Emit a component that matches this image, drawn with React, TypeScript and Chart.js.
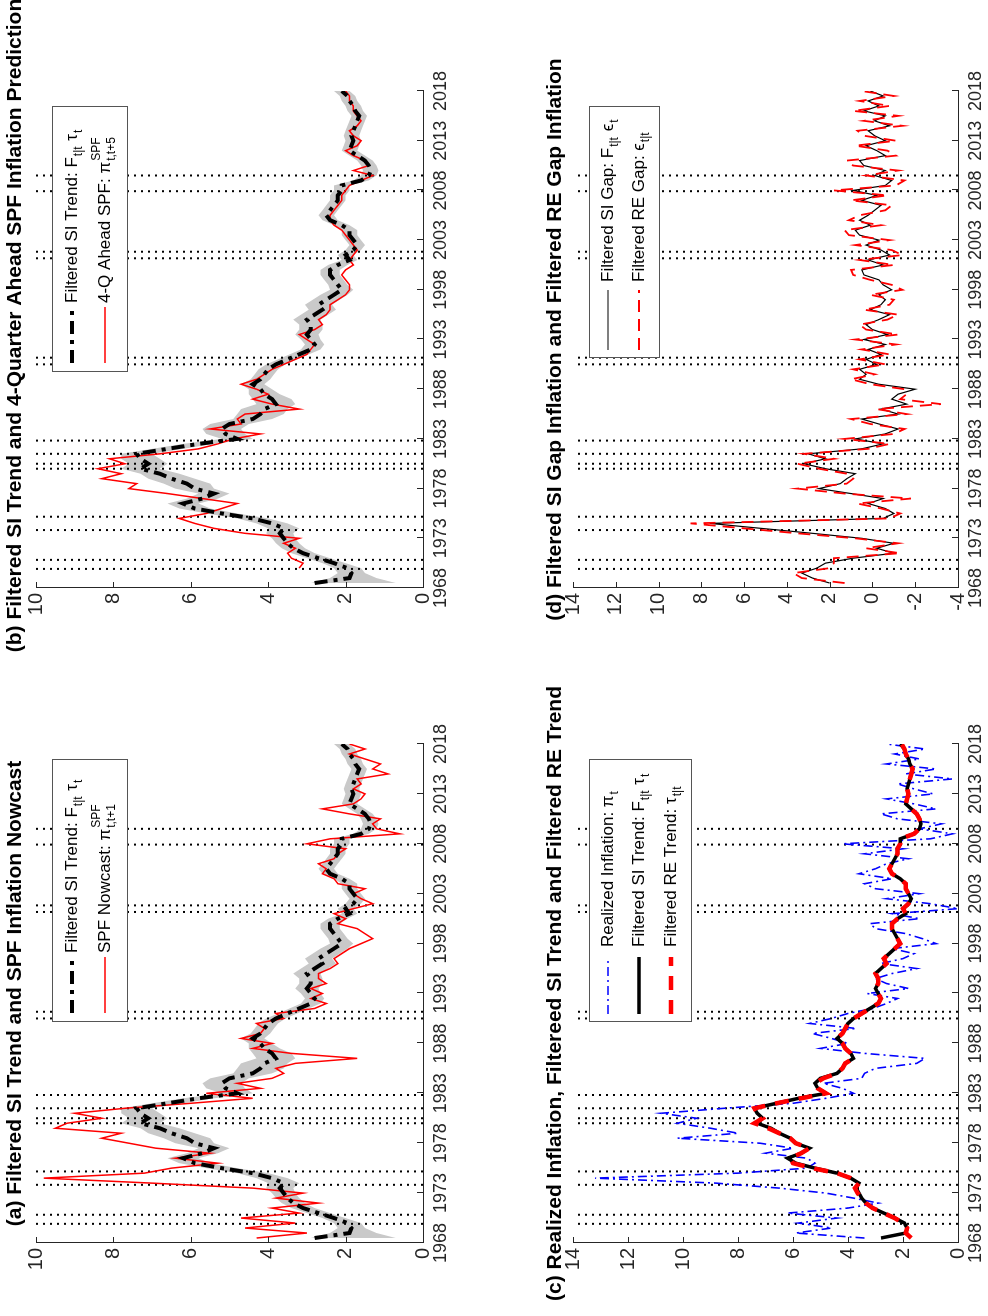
import React, { useEffect, useRef } from 'react';
import { Chart, registerables } from 'chart.js';
Chart.register(...registerables);

const FONT = '"Liberation Sans", Arial, Helvetica, sans-serif';
const AXIS_COLOR = '#262626';

// Half-year grid 1968.5 .. 2018.0
const YEARS = Array.from({ length: 100 }, (_, i) => 1968.5 + i * 0.5);
const YEAR_TICKS = [1968, 1973, 1978, 1983, 1988, 1993, 1998, 2003, 2008, 2013, 2018];
const RECESSION_LINES = [1969.92, 1970.83, 1973.83, 1975.17, 1980.0, 1980.5, 1981.5, 1982.83, 1990.5, 1991.17, 2001.17, 2001.83, 2007.92, 2009.5];

const SI_TREND = [
  2.8, 1.9, 1.85, 1.95, 2.3, 2.7, 3.1, 3.35, 3.5, 3.6,
  3.7, 3.6, 3.9, 4.4, 5.2, 5.9, 6.2, 5.7, 5.4, 5.9,
  6.1, 6.5, 6.8, 7.3, 7.1, 7.3, 7.4, 6.6, 5.8, 4.8,
  5.1, 5.2, 5.0, 4.4, 4.2, 4.1, 3.8, 3.9, 4.1, 4.2,
  4.4, 4.2, 4.1, 4.0, 3.8, 3.5, 3.2, 2.9, 2.8, 2.9,
  3.0, 2.9, 2.9, 3.0, 2.8, 2.6, 2.7, 2.5, 2.3, 2.1,
  2.2, 2.3, 2.4, 2.4, 2.2, 1.9, 2.0, 1.8, 1.7, 1.8,
  1.9, 1.9, 2.1, 2.4, 2.5, 2.4, 2.3, 2.2, 2.2, 2.1,
  2.1, 1.6, 1.4, 1.35, 1.4, 1.5, 1.7, 1.9, 1.85, 1.8,
  1.85, 1.8, 1.75, 1.7, 1.65, 1.75, 1.8, 1.9, 1.95, 2.1,
];
const BAND_LO = [
  0.7, 1.2, 1.5, 1.6, 2.0, 2.4, 2.8, 3.05, 3.2, 3.3,
  3.35, 3.2, 3.5, 4.0, 4.8, 5.5, 5.8, 5.3, 5.0, 5.4,
  5.5, 5.9, 6.3, 6.8, 6.6, 6.8, 7.0, 6.2, 5.4, 4.4,
  4.6, 4.7, 4.5, 3.9, 3.6, 3.5, 3.3, 3.4, 3.7, 3.9,
  4.1, 3.95, 3.85, 3.75, 3.55, 3.25, 2.95, 2.65, 2.55, 2.65,
  2.7, 2.6, 2.6, 2.65, 2.45, 2.25, 2.35, 2.15, 1.95, 1.8,
  1.95, 2.05, 2.15, 2.15, 1.95, 1.7, 1.8, 1.6, 1.5, 1.6,
  1.7, 1.7, 1.9, 2.2, 2.3, 2.2, 2.1, 2.0, 2.0, 1.9,
  1.9, 1.4, 1.2, 1.15, 1.2, 1.3, 1.5, 1.7, 1.65, 1.6,
  1.65, 1.6, 1.55, 1.5, 1.45, 1.55, 1.6, 1.7, 1.75, 1.9,
];
const BAND_HI = [
  2.9, 2.4, 2.2, 2.3, 2.6, 3.0, 3.4, 3.65, 3.8, 3.9,
  4.05, 4.0, 4.3, 4.8, 5.6, 6.3, 6.6, 6.1, 5.8, 6.4,
  6.7, 7.1, 7.3, 7.8, 7.6, 7.8, 7.8, 7.0, 6.2, 5.2,
  5.6, 5.7, 5.5, 4.9, 4.8, 4.7, 4.3, 4.4, 4.5, 4.5,
  4.7, 4.45, 4.35, 4.25, 4.05, 3.75, 3.45, 3.15, 3.05, 3.15,
  3.3, 3.2, 3.2, 3.35, 3.15, 2.95, 3.05, 2.85, 2.65, 2.4,
  2.45, 2.55, 2.65, 2.65, 2.45, 2.1, 2.2, 2.0, 1.9, 2.0,
  2.1, 2.1, 2.3, 2.6, 2.7, 2.6, 2.5, 2.4, 2.4, 2.3,
  2.3, 1.8, 1.6, 1.55, 1.6, 1.7, 1.9, 2.1, 2.05, 2.0,
  2.05, 2.0, 1.95, 1.9, 1.85, 1.95, 2.0, 2.1, 2.15, 2.3,
];
const SPF_NOWCAST = [
  4.3, 3.0, 4.6, 3.3, 4.7, 3.2, 3.9, 2.7, 3.8, 3.1,
  4.4, 7.0, 9.8, 7.2, 6.5, 5.3, 6.4, 5.5, 6.9, 7.6,
  8.3, 7.8, 9.5, 9.2, 8.3, 9.0, 7.7, 6.0, 4.4, 5.6,
  4.2, 4.8, 3.9, 3.6, 3.8, 3.3, 1.7, 3.4, 4.4, 3.9,
  4.7, 4.2, 4.1, 4.3, 3.6, 3.8, 2.8, 2.5, 2.9, 2.6,
  2.9, 2.5, 2.7, 2.7, 2.4, 2.2, 2.3, 2.1, 1.9, 1.6,
  1.3, 1.5, 1.7, 2.2, 2.0, 2.3, 1.8, 1.3, 1.6, 1.8,
  1.5, 2.2, 2.3, 2.6, 2.5, 2.7, 2.3, 2.2, 2.0, 3.0,
  2.4, 0.6, 1.2, 1.3, 1.1, 1.9, 2.6, 1.8, 1.6, 1.5,
  1.8, 1.6, 1.7, 0.9, 1.3, 1.1, 1.5, 1.9, 1.5, 1.9,
];
const SPF_4Q = [
  null, null, null, 3.2, 3.1, 3.4, 3.5, 3.3, 3.6, 3.2,
  4.6, 5.4, 5.9, 6.3, 5.6, 5.2, 4.8, 5.7, 6.6, 7.6,
  7.4, 8.3, 7.8, 8.4, 7.7, 8.1, 6.8, 5.8, 5.3, 4.9,
  4.2, 5.5, 4.7, 4.8, 4.6, 3.2, 3.9, 4.4, 4.0, 4.3,
  4.7, 4.3, 4.1, 3.9, 3.6, 3.3, 3.0, 2.9, 2.8, 3.0,
  3.2, 2.8, 2.6, 2.7, 2.5, 2.4, 2.4, 2.2, 2.0, 1.9,
  1.9, 2.0, 2.1, 2.0, 1.8, 1.9, 1.8, 1.7, 1.8, 1.9,
  2.0, 2.1, 2.3, 2.4, 2.4, 2.3, 2.2, 2.1, 2.1, 2.0,
  1.9, 1.6, 1.3, 1.8, 1.4, 1.5, 1.8, 2.0, 1.7, 1.6,
  1.8, 1.9, 1.7, 1.6, 1.7, 1.8, 1.8, 1.9, 1.9, 2.0,
];
const REALIZED = [
  3.4, 5.9, 4.6, 5.8, 4.4, 6.2, 4.0, 2.9, 3.8, 4.8,
  6.5, 8.8, 13.2, 8.0, 5.5, 5.2, 5.5, 7.0, 6.0, 7.2,
  10.2, 8.0, 9.0, 10.2, 9.5, 10.8, 8.5, 6.0, 4.8, 3.8,
  4.2, 4.9, 3.5, 3.4, 3.0, 1.5, 1.2, 3.4, 5.0, 4.0,
  4.6, 5.3, 3.7, 5.4, 4.6, 4.0, 3.1, 2.6, 2.2, 3.3,
  1.8, 2.6, 3.0, 2.4, 1.5, 2.8, 2.0, 1.6, 2.4, 0.8,
  1.3, 1.9, 3.0, 3.2, 1.4, 2.4, 0.0, 1.0, 2.6, 1.4,
  3.0, 3.4, 2.4, 3.6, 3.0, 2.6, 1.8, 3.4, 2.0, 4.2,
  1.0, 0.2, 1.4, 0.6, 2.2, 2.8, 0.8, 1.6, 2.6, 0.9,
  1.6, 2.2, 0.2, 1.9, 0.8, 2.6, 1.4, 2.3, 1.2, 2.6,
];
const RE_TREND = [
  1.7, 1.9, 1.85, 2.0, 2.3, 2.7, 3.1, 3.35, 3.5, 3.65,
  3.75, 3.6, 3.9, 4.4, 5.3, 6.0, 6.1, 5.7, 5.4, 5.9,
  6.1, 6.5, 6.9, 7.4, 7.1, 7.3, 7.4, 6.6, 5.7, 4.8,
  5.1, 5.2, 4.9, 4.4, 4.2, 4.1, 3.8, 3.9, 4.1, 4.2,
  4.4, 4.2, 4.1, 4.0, 3.8, 3.5, 3.2, 2.9, 2.8, 2.9,
  3.0, 2.9, 2.9, 3.0, 2.8, 2.6, 2.7, 2.5, 2.3, 2.1,
  2.2, 2.3, 2.4, 2.4, 2.2, 1.9, 2.0, 1.8, 1.7, 1.8,
  1.9, 1.9, 2.1, 2.4, 2.5, 2.4, 2.3, 2.2, 2.2, 2.1,
  2.1, 1.6, 1.4, 1.35, 1.4, 1.5, 1.7, 1.9, 1.85, 1.8,
  1.85, 1.8, 1.75, 1.7, 1.65, 1.75, 1.8, 1.9, 1.95, 2.05,
];
const SI_GAP = [
  2.0, 2.8, 3.3, 2.6, 2.2, 0.9, -1.0, -0.2, -1.0, 0.5,
  2.8, 5.2, 7.6, -0.5, -1.0, -0.6, 0.2, -0.5, 1.0, 2.5,
  1.5, 1.2, 0.8, 2.2, 3.2, 2.2, 3.0, 0.5, -0.5, 0.8,
  -0.6, -1.2, -0.3, 0.5, -1.2, -0.4, -1.6, -0.9, -1.2, -2.0,
  -0.3, 0.6, 0.3, 0.6, -0.2, 0.3, -0.4, 0.2, -0.6, 0.4,
  -0.7, 0.0, 0.3, -0.3, -0.8, 0.1, -0.4, -0.6, -0.3, -0.9,
  -0.5, -0.3, 0.4, 0.5, -0.5, 0.2, -0.8, -0.4, 0.3, -0.3,
  0.6, 0.8, 0.1, 0.6, 0.2, -0.1, -0.4, 0.5, -0.2, 0.9,
  -0.6, -0.9, -0.1, -0.6, 0.4, 0.6, -0.6, -0.2, 0.3, -0.6,
  -0.1, 0.2, -0.8, -0.1, -0.6, 0.4, -0.3, 0.2, -0.5, 0.1,
];
const RE_GAP = [
  1.3, 3.3, 3.7, 2.0, 1.8, 1.8, -1.3, 0.3, -1.2, 0.8,
  3.5, 6.0, 8.5, -0.8, -1.3, -0.4, 0.7, -1.8, 1.3, 3.5,
  1.2, 0.9, 1.2, 2.5, 3.5, 1.8, 3.2, 0.2, -0.8, 1.3,
  -1.0, -1.5, 0.1, 1.0, -1.6, -0.2, -3.2, -1.3, -1.6, -1.5,
  0.1, 1.0, -0.1, 0.9, -0.6, 0.6, -0.8, 0.5, -1.1, 0.8,
  -1.2, 0.3, 0.6, -0.7, -1.2, 0.4, -0.8, -1.0, 0.1, -1.4,
  -0.9, 0.1, 0.9, 1.0, -1.0, 0.6, -1.4, -0.9, 0.8, -0.8,
  1.1, 1.3, -0.4, 1.1, 0.6, -0.6, -0.9, 1.0, -0.7, 1.8,
  -1.1, -1.5, 0.3, -1.2, 0.9, 1.2, -1.1, -0.7, 0.8, -1.1,
  0.4, 0.7, -1.4, 0.4, -1.2, 0.9, -0.8, 0.6, -1.0, 0.5,
];

type Style = { color: string; width: number; dash: number[] };
const S_TREND_DD: Style = { color: '#000000', width: 4, dash: [13, 6, 4, 6] };
const S_RED_THIN: Style = { color: '#ff0000', width: 1.5, dash: [] };
const S_BLUE_DD: Style = { color: '#0000ff', width: 1.6, dash: [9, 4, 2, 4] };
const S_BLACK_THICK: Style = { color: '#000000', width: 3.5, dash: [] };
const S_RED_DASH_THICK: Style = { color: '#ff0000', width: 4.5, dash: [14, 10] };
const S_BLACK_THIN: Style = { color: '#000000', width: 1.2, dash: [] };
const S_RED_DASH: Style = { color: '#ff0000', width: 1.8, dash: [12, 7] };

const pts = (vals: (number | null)[]) =>
  YEARS.map((x, i) => ({ x, y: vals[i] })).filter((p) => p.y !== null);

const lineDs = (vals: (number | null)[], s: Style) => ({
  data: pts(vals),
  borderColor: s.color,
  borderWidth: s.width,
  borderDash: s.dash,
  pointRadius: 0,
  fill: false,
  tension: 0,
});

const recessionDs = (yMin: number, yMax: number) =>
  RECESSION_LINES.map((yr) => ({
    data: [{ x: yr, y: yMin }, { x: yr, y: yMax }],
    borderColor: '#000000',
    borderWidth: 2,
    borderDash: [2, 5],
    pointRadius: 0,
    fill: false,
  }));

const bandDs = () => [
  { data: pts(BAND_LO), borderColor: 'rgba(0,0,0,0)', borderWidth: 0, pointRadius: 0, fill: false },
  { data: pts(BAND_HI), borderColor: 'rgba(0,0,0,0)', borderWidth: 0, pointRadius: 0, fill: '-1', backgroundColor: '#c9c9c9' },
];

type Part = { t: string; sub?: string; sup?: string };
type Row = { style: Style; parts: Part[] };
type LegendSpec = { w: number; h: number; rows: number[]; s0: number; s1: number; tx: number; items: Row[] };

const TREND_LABEL: Part[] = [{ t: 'Filtered SI Trend: F', sub: 't|t' }, { t: ' τ', sub: 't' }];

const PANELS = [
  {
    key: 'a', left: 0, top: 0, w: 640, h: 494, yW: 73, padTop: 36, padRight: 68, xH: 71, titleY: 15, titleDX: 0,
    yMin: 0, yMax: 10,
    title: '(a) Filtered SI Trend and SPF Inflation Nowcast',
    datasets: () => [lineDs(SI_TREND, S_TREND_DD), lineDs(SPF_NOWCAST, S_RED_THIN), ...bandDs(), ...recessionDs(0, 10)],
    legend: {
      w: 262, h: 75, rows: [20, 53], s0: 9, s1: 65, tx: 69,
      items: [
        { style: S_TREND_DD, parts: TREND_LABEL },
        { style: S_RED_THIN, parts: [{ t: 'SPF Nowcast: π', sup: 'SPF', sub: 't,t+1' }] },
      ],
    } as LegendSpec,
  },
  {
    key: 'b', left: 640, top: 0, w: 676, h: 494, yW: 88, padTop: 36, padRight: 91, xH: 71, titleY: 15, titleDX: 14,
    yMin: 0, yMax: 10,
    title: '(b) Filtered SI Trend and 4-Quarter Ahead SPF Inflation Prediction',
    datasets: () => [lineDs(SI_TREND, S_TREND_DD), lineDs(SPF_4Q, S_RED_THIN), ...bandDs(), ...recessionDs(0, 10)],
    legend: {
      w: 265, h: 75, rows: [20, 53], s0: 9, s1: 65, tx: 69,
      items: [
        { style: S_TREND_DD, parts: TREND_LABEL },
        { style: S_RED_THIN, parts: [{ t: '4-Q Ahead SPF: π', sup: 'SPF', sub: 't,t+5' }] },
      ],
    } as LegendSpec,
  },
  {
    key: 'c', left: 0, top: 494, w: 640, h: 494, yW: 73, padTop: 79, padRight: 68, xH: 30, titleY: 61, titleDX: 0,
    yMin: 0, yMax: 14,
    title: '(c) Realized Inflation, Filtereed SI Trend and Filtered RE Trend',
    datasets: () => [lineDs(RE_TREND, S_RED_DASH_THICK), lineDs(SI_TREND, S_BLACK_THICK), lineDs(REALIZED, S_BLUE_DD), ...recessionDs(0, 14)],
    legend: {
      w: 262, h: 102, rows: [19, 50, 82], s0: 8, s1: 65, tx: 75,
      items: [
        { style: S_BLUE_DD, parts: [{ t: 'Realized Inflation: π', sub: 't' }] },
        { style: S_BLACK_THICK, parts: TREND_LABEL },
        { style: S_RED_DASH_THICK, parts: [{ t: 'Filtered RE Trend: τ', sub: 't|t' }] },
      ],
    } as LegendSpec,
  },
  {
    key: 'd', left: 640, top: 494, w: 676, h: 494, yW: 88, padTop: 79, padRight: 91, xH: 30, titleY: 61, titleDX: 0,
    yMin: -4, yMax: 14,
    title: '(d) Filtered SI Gap Inflation and Filtered RE Gap Inflation',
    datasets: () => [lineDs(RE_GAP, S_RED_DASH), lineDs(SI_GAP, S_BLACK_THIN), ...recessionDs(-4, 14)],
    legend: {
      w: 251, h: 70, rows: [19, 50], s0: 8, s1: 68, tx: 76,
      items: [
        { style: S_BLACK_THIN, parts: [{ t: 'Filtered SI Gap: F', sub: 't|t' }, { t: ' ϵ', sub: 't' }] },
        { style: S_RED_DASH, parts: [{ t: 'Filtered RE Gap: ϵ', sub: 't|t' }] },
      ],
    } as LegendSpec,
  },
];

const LEGEND_FONT = 17;

function drawRich(ctx: CanvasRenderingContext2D, x: number, y: number, parts: Part[]) {
  let cx = x;
  const size = LEGEND_FONT;
  const small = Math.round(size * 0.7);
  ctx.textAlign = 'left';
  ctx.textBaseline = 'middle';
  for (const p of parts) {
    ctx.font = `${size}px ${FONT}`;
    ctx.fillText(p.t, cx, y);
    cx += ctx.measureText(p.t).width;
    ctx.font = `${small}px ${FONT}`;
    let w = 0;
    if (p.sub) {
      ctx.fillText(p.sub, cx + 1, y + size * 0.42);
      w = Math.max(w, ctx.measureText(p.sub).width);
    }
    if (p.sup) {
      ctx.fillText(p.sup, cx + 1, y - size * 0.5);
      w = Math.max(w, ctx.measureText(p.sup).width);
    }
    if (w) cx += w + 2;
  }
}

function extrasPlugin(spec: any) {
  return {
    id: 'extras' + spec.key,
    afterDraw(chart: any) {
      const { ctx, chartArea: a, scales } = chart;
      const xs = scales.x;
      const ys = scales.y;
      ctx.save();
      // inward tick marks
      ctx.strokeStyle = AXIS_COLOR;
      ctx.lineWidth = 1;
      ctx.setLineDash([]);
      xs.ticks.forEach((t: any) => {
        const p = Math.round(xs.getPixelForValue(t.value)) + 0.5;
        ctx.beginPath();
        ctx.moveTo(p, a.bottom);
        ctx.lineTo(p, a.bottom - 6);
        ctx.stroke();
      });
      ys.ticks.forEach((t: any) => {
        const p = Math.round(ys.getPixelForValue(t.value)) + 0.5;
        ctx.beginPath();
        ctx.moveTo(a.left, p);
        ctx.lineTo(a.left + 6, p);
        ctx.stroke();
      });
      // title
      ctx.fillStyle = '#000';
      ctx.font = `bold 21px ${FONT}`;
      ctx.textAlign = 'center';
      ctx.textBaseline = 'middle';
      ctx.fillText(spec.title, (a.left + a.right) / 2 + spec.titleDX, spec.titleY);
      // legend
      const L: LegendSpec = spec.legend;
      const bx = Math.round(a.right - 16 - L.w);
      const by = Math.round(a.top + 16);
      ctx.fillStyle = '#ffffff';
      ctx.fillRect(bx, by, L.w, L.h);
      ctx.strokeStyle = '#555555';
      ctx.lineWidth = 1;
      ctx.strokeRect(bx + 0.5, by + 0.5, L.w, L.h);
      L.items.forEach((item, i) => {
        const ry = by + L.rows[i];
        ctx.strokeStyle = item.style.color;
        ctx.lineWidth = item.style.width;
        ctx.setLineDash(item.style.dash);
        ctx.beginPath();
        ctx.moveTo(bx + L.s0, ry);
        ctx.lineTo(bx + L.s1, ry);
        ctx.stroke();
        ctx.setLineDash([]);
        ctx.fillStyle = '#000';
        drawRich(ctx, bx + L.tx, ry, item.parts);
      });
      ctx.restore();
    },
  };
}

function makeChart(canvas: HTMLCanvasElement, spec: any) {
  return new Chart(canvas, {
    type: 'line',
    data: { datasets: spec.datasets() },
    options: {
      animation: false,
      responsive: false,
      events: [],
      layout: { padding: { top: spec.padTop, right: spec.padRight, left: 0, bottom: 0 } },
      plugins: {
        legend: { display: false },
        title: { display: false },
        tooltip: { enabled: false },
        filler: { propagate: false, drawTime: 'beforeDatasetsDraw' },
      },
      elements: { point: { radius: 0 }, line: { tension: 0 } },
      scales: {
        x: {
          type: 'linear',
          min: 1968,
          max: 2018,
          afterBuildTicks: (s: any) => {
            s.ticks = YEAR_TICKS.map((v) => ({ value: v }));
          },
          afterFit: (s: any) => {
            s.height = spec.xH;
          },
          ticks: {
            callback: (v: any) => String(v),
            font: { family: FONT, size: 18 },
            color: AXIS_COLOR,
            padding: 7,
            maxRotation: 0,
            minRotation: 0,
            autoSkip: false,
          },
          grid: { display: true, drawOnChartArea: false, drawTicks: false, lineWidth: 1, color: AXIS_COLOR },
          border: { display: true, color: AXIS_COLOR, width: 1 },
        },
        y: {
          type: 'linear',
          min: spec.yMin,
          max: spec.yMax,
          afterFit: (s: any) => {
            s.width = spec.yW;
          },
          ticks: {
            stepSize: 2,
            callback: (v: any) => String(v),
            font: { family: FONT, size: 20 },
            color: AXIS_COLOR,
            padding: 5,
          },
          grid: { display: true, drawOnChartArea: false, drawTicks: false, lineWidth: 1, color: AXIS_COLOR },
          border: { display: true, color: AXIS_COLOR, width: 1 },
        },
      },
    } as any,
    plugins: [extrasPlugin(spec)],
  });
}

function Panel({ spec }: { spec: any }) {
  const ref = useRef<HTMLCanvasElement | null>(null);
  useEffect(() => {
    const chart = makeChart(ref.current as HTMLCanvasElement, spec);
    return () => chart.destroy();
  }, []);
  return (
    <canvas
      ref={ref}
      width={spec.w}
      height={spec.h}
      style={{ position: 'absolute', left: spec.left, top: spec.top, width: spec.w, height: spec.h }}
    />
  );
}

export default function App() {
  return (
    <div style={{ position: 'absolute', left: 0, top: 0, width: 988, height: 1316, overflow: 'hidden', background: '#fff' }}>
      <div
        style={{
          position: 'absolute',
          left: 0,
          top: 0,
          width: 1316,
          height: 988,
          transformOrigin: '0 0',
          transform: 'translateY(1316px) rotate(-90deg)',
        }}
      >
        {PANELS.map((p) => (
          <Panel key={p.key} spec={p} />
        ))}
      </div>
    </div>
  );
}
